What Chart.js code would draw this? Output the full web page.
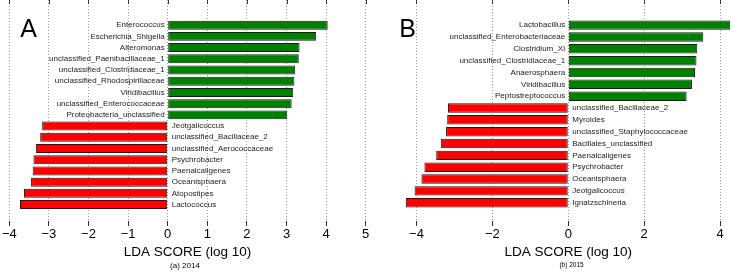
<!DOCTYPE html>
<html>
<head>
<meta charset="utf-8">
<script src="https://cdn.jsdelivr.net/npm/chart.js@4.4.1/dist/chart.umd.min.js"></script>
<style>
  body { margin: 0; width: 733px; height: 272px; overflow: hidden; background: #fff; position: relative; }
  .panel { position: absolute; top: 0; width: 380px; height: 272px; }
</style>
</head>
<body>
<div class="panel" style="left:0px"><canvas id="grafico2014"></canvas></div>
<div class="panel" style="left:365px"><canvas id="grafico2015"></canvas></div>
<script>
// (a) 2014
const taxons2014 = ["Enterococcus", "Escherichia_Shigella", "Alteromonas", "unclassified_Paenibacillaceae_1",
  "unclassified_Clostridiaceae_1", "unclassified_Rhodospirillaceae", "Viridibacillus", "unclassified_Enterococcaceae",
  "Proteobacteria_unclassified", "Jeotgalicoccus", "unclassified_Bacillaceae_2", "unclassified_Aerococcaceae",
  "Psychrobacter", "Paenalcaligenes", "Oceanisphaera", "Atopostipes", "Lactococcus"];
const lda2014 = [4.04, 3.75, 3.33, 3.31, 3.22, 3.20, 3.17, 3.13, 3.02,
  -3.17, -3.22, -3.33, -3.39, -3.41, -3.45, -3.63, -3.73];
const ticks2014 = [-4, -3, -2, -1, 0, 1, 2, 3, 4, 5];

// (b) 2015
const taxons2015 = ["Lactobacillus", "unclassified_Enterobacteriaceae", "Clostridium_XI", "unclassified_Clostridiaceae_1",
  "Anaerosphaera", "Viridibacillus", "Peptostreptococcus", "unclassified_Bacillaceae_2", "Myroides",
  "unclassified_Staphylococcaceae", "Bacillales_unclassified", "Paenalcaligenes", "Psychrobacter",
  "Oceanisphaera", "Jeotgalicoccus", "Ignatzschineria"];
const lda2015 = [4.27, 3.56, 3.40, 3.38, 3.34, 3.26, 3.12,
  -3.17, -3.19, -3.22, -3.36, -3.48, -3.79, -3.87, -4.05, -4.28];
const ticks2015 = [-4, -2, 0, 2, 4];

const fonte = "'Liberation Sans', Arial, sans-serif";

// nomes ao lado do zero + marcas de cima + letra do painel
function pluginTextos(letra, letraX, subtitulo, subX, subTam) {
  return {
    id: "textos" + letra,
    afterDatasetsDraw(chart) {
      const ctx = chart.ctx;
      const x = chart.scales.x, y = chart.scales.y;
      const area = chart.chartArea;
      const nomes = chart.data.labels;
      const valores = chart.data.datasets[0].data;
      ctx.save();
      // tick marks de cima (para dentro)
      ctx.strokeStyle = "#333";
      ctx.lineWidth = 1;
      x.ticks.forEach((t) => {
        const px = Math.round(x.getPixelForValue(t.value)) + 0.5;
        ctx.beginPath();
        ctx.moveTo(px, area.top);
        ctx.lineTo(px, area.top + 4);
        ctx.stroke();
      });
      ctx.font = "8px " + fonte;
      ctx.fillStyle = "#222";
      ctx.textBaseline = "middle";
      const x0 = x.getPixelForValue(0);
      valores.forEach((d, i) => {
        const py = y.getPixelForValue(d.y);
        if (d.x > 0) {
          ctx.textAlign = "right";
          ctx.fillText(nomes[i], x0 - 3, py);
        } else {
          ctx.textAlign = "left";
          ctx.fillText(nomes[i], x0 + 4, py);
        }
      });
      ctx.fillStyle = "#000";
      ctx.textAlign = "center";
      ctx.font = "25px " + fonte;
      ctx.fillText(letra, letraX, 30);
      ctx.font = subTam + "px " + fonte;
      ctx.fillText(subtitulo, subX, 265.5);
      ctx.restore();
    },
  };
}

function plotarGrafico(idGrafico, nomes, valores, marcas, xMin, xMax, yMin, yMax, padEsq, padDir, plugin) {
  const ctx = document.getElementById(idGrafico).getContext("2d");
  return new Chart(ctx, {
    type: "bar",
    data: {
      labels: nomes,
      datasets: [
        {
          data: valores.map((v, i) => ({ x: v, y: i })),
          backgroundColor: valores.map((v) => (v > 0 ? "#008000" : "#ff0000")),
          borderColor: "#1a1a1a",
          borderWidth: 1,
          borderSkipped: false,
          barPercentage: 0.8,
          categoryPercentage: 1,
        },
      ],
    },
    options: {
      indexAxis: "y",
      animation: false,
      responsive: true,
      maintainAspectRatio: false,
      layout: { padding: { left: padEsq, right: padDir, top: 0, bottom: 0 } },
      plugins: { legend: { display: false }, tooltip: { enabled: false } },
      scales: {
        x: {
          type: "linear",
          min: xMin,
          max: xMax,
          afterBuildTicks: (s) => { s.ticks = marcas.map((v) => ({ value: v })); },
          afterFit: (s) => { s.height = 51; },
          grid: { color: "#999", tickColor: "#333", tickLength: 5, tickBorderDash: [] },
          border: { display: false, dash: [1, 2] },
          ticks: {
            color: "#000",
            padding: 1,
            maxRotation: 0,
            font: { family: fonte, size: 13 },
            callback: (v) => String(v).replace("-", "\u2212"),
          },
          title: {
            display: true,
            text: "LDA SCORE (log 10)",
            color: "#000",
            font: { family: fonte, size: 13.5 },
            padding: { top: 0, bottom: 12 },
          },
        },
        y: {
          type: "linear",
          reverse: true,
          min: yMin,
          max: yMax,
          display: false,
        },
      },
    },
    plugins: [plugin],
  });
}

plotarGrafico("grafico2014", taxons2014, lda2014, ticks2014, -4, 5, -1.26, 16.48, 9.3, 14.3,
  pluginTextos("A", 28.5, "(a) 2014", 185, 8));
plotarGrafico("grafico2015", taxons2015, lda2015, ticks2015, -4.5, 4.5, -1.19, 15.61, 32.5, 6,
  pluginTextos("B", 42.5, "(b) 2015", 206.5, 6.5));
</script>
</body>
</html>
